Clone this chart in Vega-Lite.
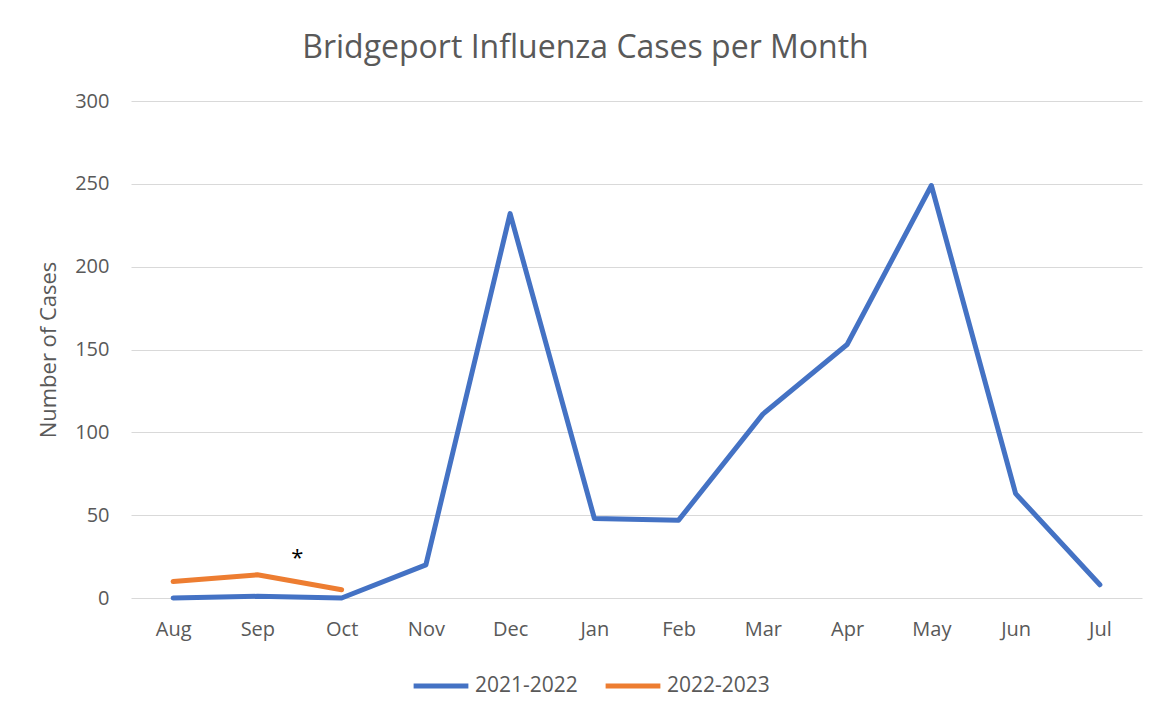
{
  "$schema": "https://vega.github.io/schema/vega-lite/v6.json",
  "width": 1011,
  "height": 497,
  "autosize": {"type": "none"},
  "padding": {"left": 131, "top": 101, "right": 27, "bottom": 121},
  "background": "white",
  "config": {
    "font": "Open Sans",
    "view": {"stroke": null}
  },
  "title": {
    "text": "Bridgeport Influenza Cases per Month",
    "fontSize": 32,
    "fontWeight": "normal",
    "color": "#595959",
    "anchor": "middle",
    "dx": -51,
    "offset": 26
  },
  "datasets": {
    "cases": [
      {"month": "Aug", "season": "2021-2022", "cases": 0},
      {"month": "Sep", "season": "2021-2022", "cases": 1},
      {"month": "Oct", "season": "2021-2022", "cases": 0},
      {"month": "Nov", "season": "2021-2022", "cases": 20},
      {"month": "Dec", "season": "2021-2022", "cases": 232},
      {"month": "Jan", "season": "2021-2022", "cases": 48},
      {"month": "Feb", "season": "2021-2022", "cases": 47},
      {"month": "Mar", "season": "2021-2022", "cases": 111},
      {"month": "Apr", "season": "2021-2022", "cases": 153},
      {"month": "May", "season": "2021-2022", "cases": 249},
      {"month": "Jun", "season": "2021-2022", "cases": 63},
      {"month": "Jul", "season": "2021-2022", "cases": 8},
      {"month": "Aug", "season": "2022-2023", "cases": 10},
      {"month": "Sep", "season": "2022-2023", "cases": 14},
      {"month": "Oct", "season": "2022-2023", "cases": 5}
    ],
    "note": [
      {"month": "Sep", "cases": 24, "label": "*"}
    ]
  },
  "layer": [
    {
      "data": {"name": "cases"},
      "mark": {"type": "line", "strokeWidth": 5, "strokeCap": "round", "strokeJoin": "round"},
      "encoding": {
        "x": {
          "field": "month",
          "type": "ordinal",
          "sort": ["Aug", "Sep", "Oct", "Nov", "Dec", "Jan", "Feb", "Mar", "Apr", "May", "Jun", "Jul"],
          "scale": {"type": "point", "padding": 0.5},
          "axis": {
            "title": null,
            "labelAngle": 0,
            "labelFontSize": 20,
            "labelColor": "#595959",
            "labelPadding": 21,
            "ticks": false,
            "domain": false,
            "grid": false
          }
        },
        "y": {
          "field": "cases",
          "type": "quantitative",
          "scale": {"domain": [0, 300], "nice": false},
          "axis": {
            "title": "Number of Cases",
            "titleFontSize": 22,
            "titleFontWeight": "normal",
            "titleColor": "#595959",
            "titlePadding": 14,
            "values": [0, 50, 100, 150, 200, 250, 300],
            "labelFontSize": 20,
            "labelColor": "#595959",
            "labelPadding": 22,
            "ticks": false,
            "domain": false,
            "grid": true,
            "gridColor": "#d9d9d9",
            "gridWidth": 1.2
          }
        },
        "color": {
          "field": "season",
          "type": "nominal",
          "scale": {"domain": ["2021-2022", "2022-2023"], "range": ["#4472C4", "#ED7D31"]},
          "legend": {
            "title": null,
            "orient": "none",
            "legendX": 280,
            "legendY": 555,
            "direction": "horizontal",
            "symbolType": "stroke",
            "symbolSize": 3000,
            "symbolStrokeWidth": 5,
            "labelFontSize": 21,
            "labelColor": "#595959",
            "labelOffset": 4,
            "columnPadding": 17
          }
        }
      }
    },
    {
      "data": {"name": "note"},
      "mark": {"type": "text", "fontSize": 22, "color": "black", "dx": 40, "baseline": "middle"},
      "encoding": {
        "x": {"field": "month", "type": "ordinal", "sort": ["Aug", "Sep", "Oct", "Nov", "Dec", "Jan", "Feb", "Mar", "Apr", "May", "Jun", "Jul"]},
        "y": {"field": "cases", "type": "quantitative"},
        "text": {"field": "label"}
      }
    }
  ]
}
